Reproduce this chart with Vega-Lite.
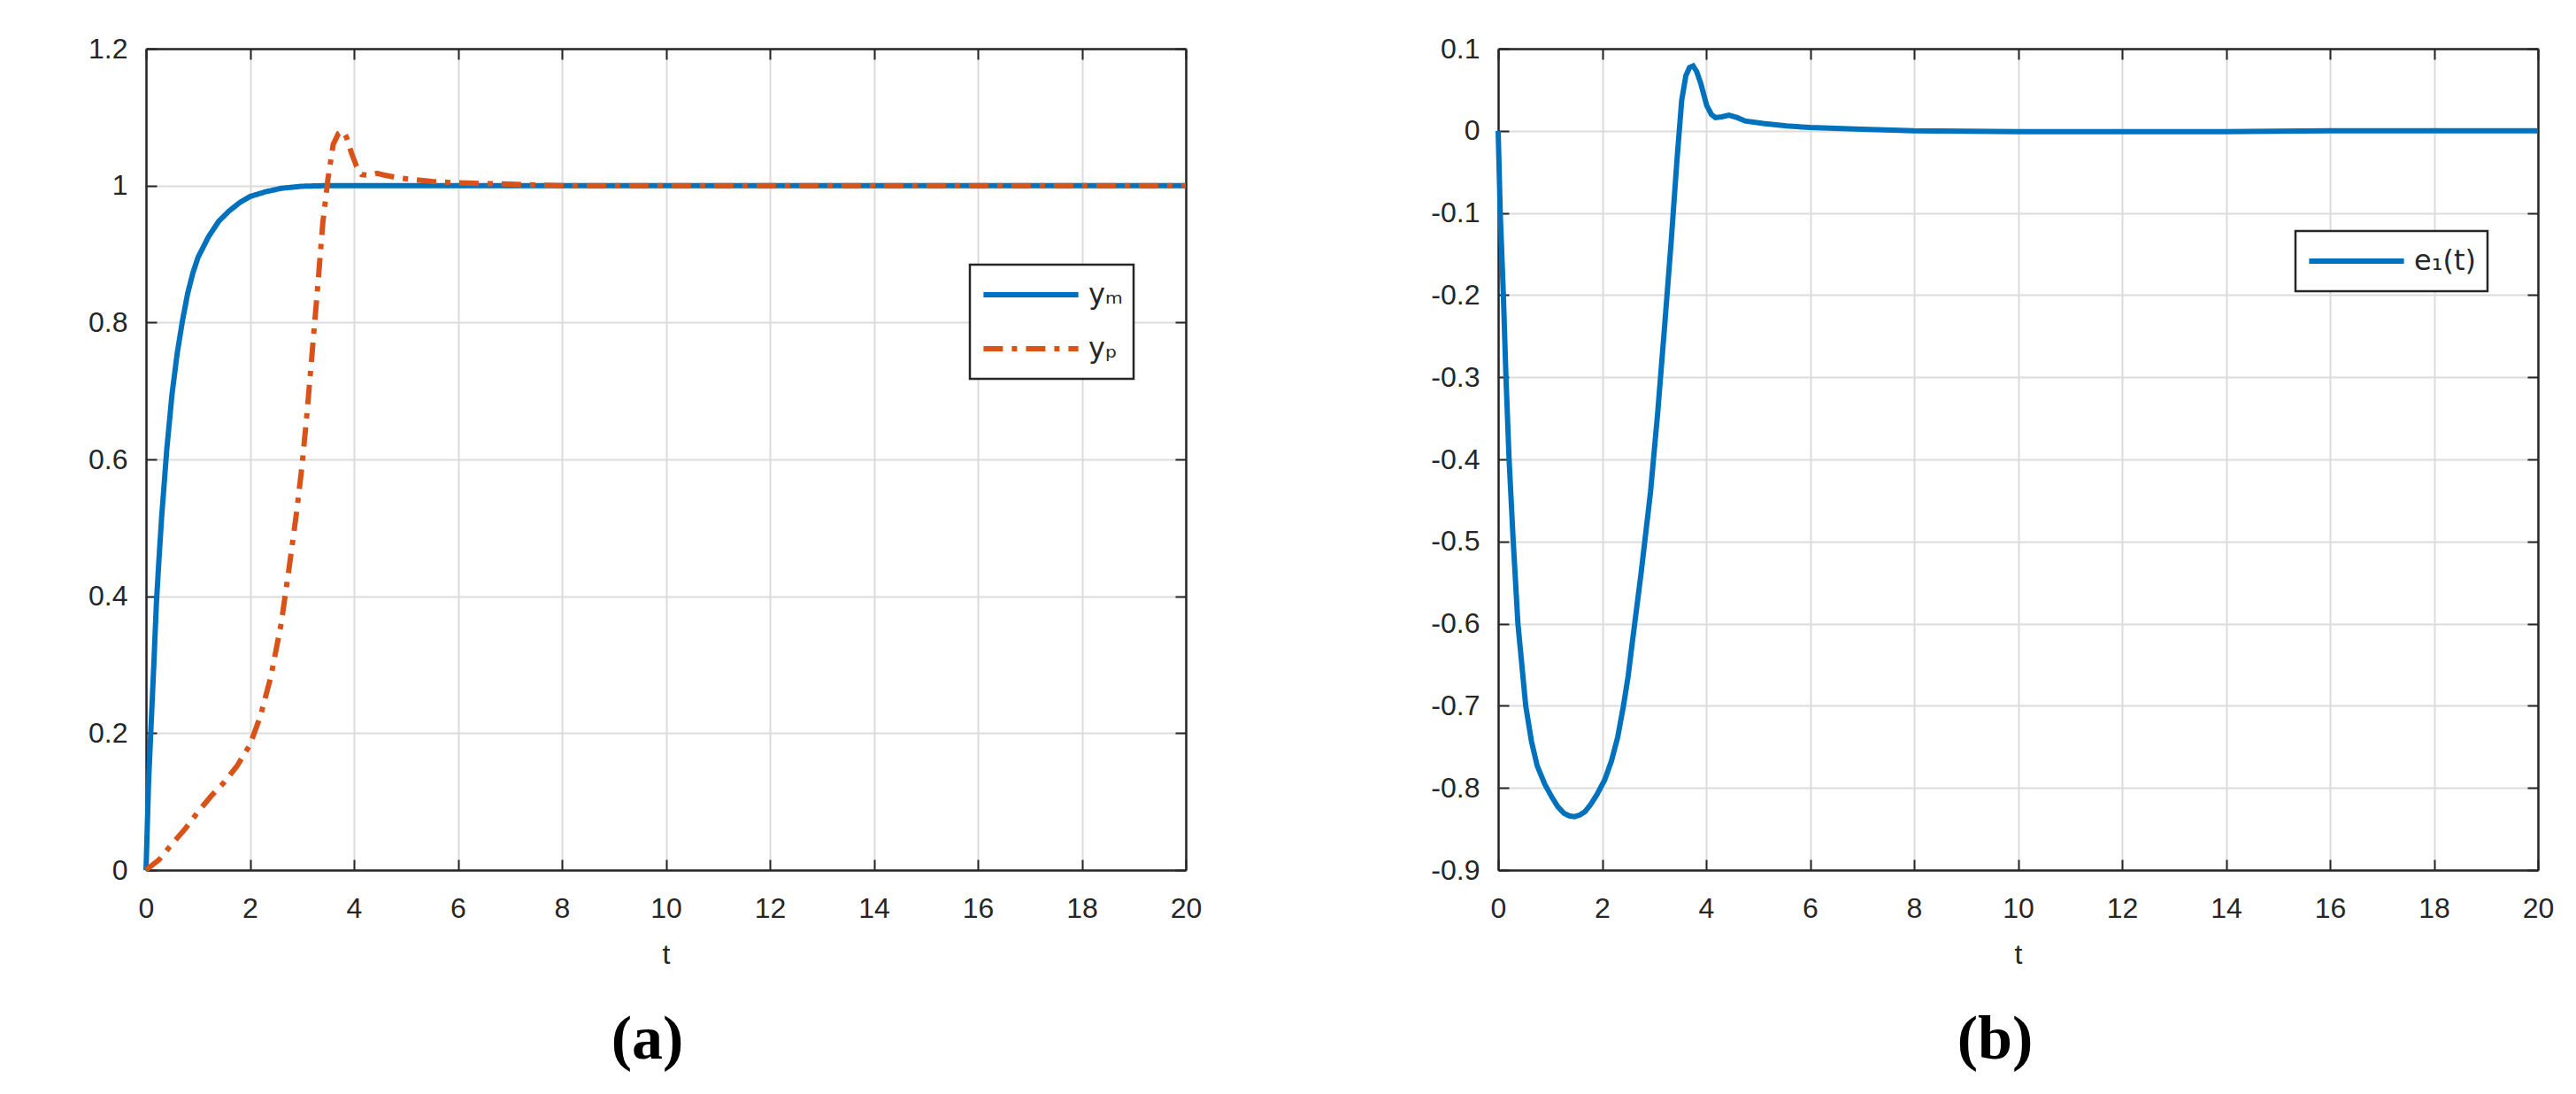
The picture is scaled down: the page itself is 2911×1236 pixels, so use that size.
{
  "$schema": "https://vega.github.io/schema/vega-lite/v6.json",
  "background": "white",
  "padding": {"left": 0, "top": 39, "right": 5, "bottom": 5},
  "spacing": 170,
  "resolve": {"scale": {"color": "independent", "strokeDash": "independent"}, "legend": {"color": "independent", "strokeDash": "independent"}},
  "config": {
    "view": {"stroke": null},
    "axis": {
      "labelFont": "Liberation Sans",
      "labelFontSize": 32,
      "labelColor": "#262626",
      "titleFont": "Liberation Sans",
      "titleFontSize": 32,
      "titleFontWeight": "normal",
      "titleColor": "#262626",
      "domainColor": "#262626",
      "domainWidth": 2.5,
      "tickColor": "#262626",
      "tickWidth": 2,
      "tickSize": -12,
      "gridColor": "#dcdcdc",
      "gridWidth": 2,
      "gridOpacity": 1,
      "labelFlush": false,
      "labelOverlap": false
    },
    "legend": {
      "labelFont": "DejaVu Sans",
      "labelFontSize": 32,
      "labelColor": "#262626",
      "strokeColor": "#262626",
      "strokeWidth": 2.5,
      "fillColor": "white",
      "symbolType": "stroke",
      "symbolSize": 11500,
      "symbolStrokeWidth": 6,
      "labelOffset": 8,
      "clipHeight": 44
    }
  },
  "datasets": {
    "a": [
      {"t": 0, "series": "yₘ", "value": 0},
      {"t": 0.05, "series": "yₘ", "value": 0.13},
      {"t": 0.1, "series": "yₘ", "value": 0.215},
      {"t": 0.15, "series": "yₘ", "value": 0.3},
      {"t": 0.2, "series": "yₘ", "value": 0.39},
      {"t": 0.25, "series": "yₘ", "value": 0.455},
      {"t": 0.3, "series": "yₘ", "value": 0.515},
      {"t": 0.4, "series": "yₘ", "value": 0.615},
      {"t": 0.5, "series": "yₘ", "value": 0.695},
      {"t": 0.6, "series": "yₘ", "value": 0.755},
      {"t": 0.7, "series": "yₘ", "value": 0.802},
      {"t": 0.8, "series": "yₘ", "value": 0.842},
      {"t": 0.9, "series": "yₘ", "value": 0.872},
      {"t": 1.0, "series": "yₘ", "value": 0.895},
      {"t": 1.2, "series": "yₘ", "value": 0.925},
      {"t": 1.4, "series": "yₘ", "value": 0.948},
      {"t": 1.6, "series": "yₘ", "value": 0.963},
      {"t": 1.8, "series": "yₘ", "value": 0.975},
      {"t": 2.0, "series": "yₘ", "value": 0.984},
      {"t": 2.3, "series": "yₘ", "value": 0.991},
      {"t": 2.6, "series": "yₘ", "value": 0.996},
      {"t": 3.0, "series": "yₘ", "value": 0.999},
      {"t": 3.5, "series": "yₘ", "value": 1.0},
      {"t": 5, "series": "yₘ", "value": 1.0},
      {"t": 10, "series": "yₘ", "value": 1.0},
      {"t": 15, "series": "yₘ", "value": 1.0},
      {"t": 20, "series": "yₘ", "value": 1.0},
      {"t": 0, "series": "yₚ", "value": 0},
      {"t": 0.25, "series": "yₚ", "value": 0.015},
      {"t": 0.5, "series": "yₚ", "value": 0.038},
      {"t": 0.75, "series": "yₚ", "value": 0.06},
      {"t": 1.0, "series": "yₚ", "value": 0.085},
      {"t": 1.25, "series": "yₚ", "value": 0.108},
      {"t": 1.5, "series": "yₚ", "value": 0.128},
      {"t": 1.75, "series": "yₚ", "value": 0.152},
      {"t": 2.0, "series": "yₚ", "value": 0.183},
      {"t": 2.2, "series": "yₚ", "value": 0.225},
      {"t": 2.4, "series": "yₚ", "value": 0.282},
      {"t": 2.6, "series": "yₚ", "value": 0.36},
      {"t": 2.75, "series": "yₚ", "value": 0.44},
      {"t": 2.9, "series": "yₚ", "value": 0.525},
      {"t": 3.0, "series": "yₚ", "value": 0.59},
      {"t": 3.1, "series": "yₚ", "value": 0.67},
      {"t": 3.2, "series": "yₚ", "value": 0.76},
      {"t": 3.3, "series": "yₚ", "value": 0.85},
      {"t": 3.4, "series": "yₚ", "value": 0.945},
      {"t": 3.5, "series": "yₚ", "value": 1.01},
      {"t": 3.6, "series": "yₚ", "value": 1.06},
      {"t": 3.7, "series": "yₚ", "value": 1.076},
      {"t": 3.78, "series": "yₚ", "value": 1.08},
      {"t": 3.86, "series": "yₚ", "value": 1.07},
      {"t": 3.95, "series": "yₚ", "value": 1.048},
      {"t": 4.05, "series": "yₚ", "value": 1.028},
      {"t": 4.15, "series": "yₚ", "value": 1.016},
      {"t": 4.3, "series": "yₚ", "value": 1.015},
      {"t": 4.45, "series": "yₚ", "value": 1.018},
      {"t": 4.6, "series": "yₚ", "value": 1.015},
      {"t": 4.8, "series": "yₚ", "value": 1.012},
      {"t": 5.1, "series": "yₚ", "value": 1.009},
      {"t": 5.5, "series": "yₚ", "value": 1.006},
      {"t": 6.0, "series": "yₚ", "value": 1.004},
      {"t": 7.0, "series": "yₚ", "value": 1.002},
      {"t": 8.0, "series": "yₚ", "value": 1.0},
      {"t": 10, "series": "yₚ", "value": 1.0},
      {"t": 15, "series": "yₚ", "value": 1.0},
      {"t": 20, "series": "yₚ", "value": 1.0}
    ],
    "b": [
      {"t": 0, "series": "e₁(t)", "value": 0},
      {"t": 0.04, "series": "e₁(t)", "value": -0.1},
      {"t": 0.1, "series": "e₁(t)", "value": -0.2},
      {"t": 0.15, "series": "e₁(t)", "value": -0.3},
      {"t": 0.21, "series": "e₁(t)", "value": -0.4},
      {"t": 0.29, "series": "e₁(t)", "value": -0.5},
      {"t": 0.38, "series": "e₁(t)", "value": -0.6},
      {"t": 0.53, "series": "e₁(t)", "value": -0.7},
      {"t": 0.64, "series": "e₁(t)", "value": -0.743},
      {"t": 0.75, "series": "e₁(t)", "value": -0.773},
      {"t": 0.9, "series": "e₁(t)", "value": -0.796},
      {"t": 1.04, "series": "e₁(t)", "value": -0.812},
      {"t": 1.15, "series": "e₁(t)", "value": -0.823},
      {"t": 1.27, "series": "e₁(t)", "value": -0.831},
      {"t": 1.37, "series": "e₁(t)", "value": -0.834},
      {"t": 1.47, "series": "e₁(t)", "value": -0.835},
      {"t": 1.57, "series": "e₁(t)", "value": -0.833},
      {"t": 1.67, "series": "e₁(t)", "value": -0.829},
      {"t": 1.78, "series": "e₁(t)", "value": -0.82},
      {"t": 1.9, "series": "e₁(t)", "value": -0.808},
      {"t": 2.05, "series": "e₁(t)", "value": -0.79},
      {"t": 2.18, "series": "e₁(t)", "value": -0.767},
      {"t": 2.3, "series": "e₁(t)", "value": -0.738},
      {"t": 2.41, "series": "e₁(t)", "value": -0.7},
      {"t": 2.5, "series": "e₁(t)", "value": -0.664},
      {"t": 2.58, "series": "e₁(t)", "value": -0.623},
      {"t": 2.75, "series": "e₁(t)", "value": -0.538},
      {"t": 2.93, "series": "e₁(t)", "value": -0.44},
      {"t": 3.07, "series": "e₁(t)", "value": -0.342},
      {"t": 3.21, "series": "e₁(t)", "value": -0.231},
      {"t": 3.33, "series": "e₁(t)", "value": -0.133},
      {"t": 3.44, "series": "e₁(t)", "value": -0.035},
      {"t": 3.53, "series": "e₁(t)", "value": 0.037},
      {"t": 3.61, "series": "e₁(t)", "value": 0.067},
      {"t": 3.68, "series": "e₁(t)", "value": 0.077},
      {"t": 3.75, "series": "e₁(t)", "value": 0.079},
      {"t": 3.82, "series": "e₁(t)", "value": 0.072},
      {"t": 3.9, "series": "e₁(t)", "value": 0.057},
      {"t": 4.01, "series": "e₁(t)", "value": 0.031},
      {"t": 4.1, "series": "e₁(t)", "value": 0.02},
      {"t": 4.18, "series": "e₁(t)", "value": 0.016},
      {"t": 4.3, "series": "e₁(t)", "value": 0.017},
      {"t": 4.44, "series": "e₁(t)", "value": 0.019},
      {"t": 4.6, "series": "e₁(t)", "value": 0.016},
      {"t": 4.75, "series": "e₁(t)", "value": 0.012},
      {"t": 5.1, "series": "e₁(t)", "value": 0.009},
      {"t": 5.55, "series": "e₁(t)", "value": 0.006},
      {"t": 6, "series": "e₁(t)", "value": 0.004},
      {"t": 7, "series": "e₁(t)", "value": 0.002},
      {"t": 8, "series": "e₁(t)", "value": 0},
      {"t": 10, "series": "e₁(t)", "value": -0.001},
      {"t": 12, "series": "e₁(t)", "value": -0.001},
      {"t": 14, "series": "e₁(t)", "value": -0.001},
      {"t": 16, "series": "e₁(t)", "value": 0},
      {"t": 18, "series": "e₁(t)", "value": 0},
      {"t": 20, "series": "e₁(t)", "value": 0}
    ]
  },
  "hconcat": [
    {
      "width": 1175,
      "height": 928,
      "title": {"text": "(a)", "orient": "bottom", "anchor": "middle", "font": "Liberation Serif", "fontSize": 70, "fontWeight": "bold", "color": "#000000", "offset": 47, "dx": -21},
      "data": {"name": "a"},
      "layer": [
        {
          "mark": {"type": "line", "strokeWidth": 6},
          "encoding": {
            "x": {"field": "t", "type": "quantitative",
              "scale": {"domain": [0, 20], "nice": false, "zero": false},
              "axis": {"orient": "bottom", "values": [0, 2, 4, 6, 8, 10, 12, 14, 16, 18, 20], "format": "d", "grid": true, "labelPadding": 40, "title": "t", "titlePadding": 21}},
            "y": {"field": "value", "type": "quantitative",
              "scale": {"domain": [0, 1.2], "nice": false},
              "axis": {"orient": "left", "values": [0, 0.2, 0.4, 0.6, 0.8, 1, 1.2], "format": ".1~f", "grid": true, "labelPadding": 33, "title": null, "minExtent": 165, "maxExtent": 165}},
            "color": {"field": "series", "type": "nominal",
              "scale": {"domain": ["yₘ", "yₚ"], "range": ["#0072BD", "#D95319"]},
              "legend": {"title": null, "orient": "none", "legendX": 931, "legendY": 244, "padding": 12, "rowPadding": 17}},
            "strokeDash": {"field": "series", "type": "nominal",
              "scale": {"domain": ["yₘ", "yₚ"], "range": [[1, 0], [22, 10, 6, 10]]},
              "legend": {"title": null, "orient": "none", "legendX": 931, "legendY": 244, "padding": 12, "rowPadding": 17}}
          }
        },
        {
          "mark": {"type": "point", "opacity": 0, "size": 0},
          "encoding": {
            "x": {"field": "t", "type": "quantitative",
              "axis": {"orient": "top", "values": [0, 2, 4, 6, 8, 10, 12, 14, 16, 18, 20], "labels": false, "grid": false, "title": null}},
            "y": {"field": "value", "type": "quantitative",
              "axis": {"orient": "right", "values": [0, 0.2, 0.4, 0.6, 0.8, 1, 1.2], "labels": false, "grid": false, "title": null}}
          }
        }
      ],
      "resolve": {"axis": {"x": "independent", "y": "independent"}}
    },
    {
      "width": 1175,
      "height": 928,
      "title": {"text": "(b)", "orient": "bottom", "anchor": "middle", "font": "Liberation Serif", "fontSize": 70, "fontWeight": "bold", "color": "#000000", "offset": 47, "dx": -26},
      "data": {"name": "b"},
      "layer": [
        {
          "mark": {"type": "line", "strokeWidth": 6},
          "encoding": {
            "x": {"field": "t", "type": "quantitative",
              "scale": {"domain": [0, 20], "nice": false, "zero": false},
              "axis": {"orient": "bottom", "values": [0, 2, 4, 6, 8, 10, 12, 14, 16, 18, 20], "format": "d", "grid": true, "labelPadding": 40, "title": "t", "titlePadding": 21}},
            "y": {"field": "value", "type": "quantitative",
              "scale": {"domain": [-0.9, 0.1], "nice": false, "zero": false},
              "axis": {"orient": "left", "values": [-0.9, -0.8, -0.7, -0.6, -0.5, -0.4, -0.3, -0.2, -0.1, 0, 0.1], "labelExpr": "replace(format(datum.value, '.1~f'), '\u2212', '-')", "grid": true, "labelPadding": 33, "title": null, "minExtent": 165, "maxExtent": 165}},
            "color": {"field": "series", "type": "nominal",
              "scale": {"domain": ["e₁(t)"], "range": ["#0072BD"]},
              "legend": {"title": null, "orient": "none", "legendX": 901, "legendY": 206, "padding": 12}}
          }
        },
        {
          "mark": {"type": "point", "opacity": 0, "size": 0},
          "encoding": {
            "x": {"field": "t", "type": "quantitative",
              "axis": {"orient": "top", "values": [0, 2, 4, 6, 8, 10, 12, 14, 16, 18, 20], "labels": false, "grid": false, "title": null}},
            "y": {"field": "value", "type": "quantitative",
              "axis": {"orient": "right", "values": [-0.9, -0.8, -0.7, -0.6, -0.5, -0.4, -0.3, -0.2, -0.1, 0, 0.1], "labels": false, "grid": false, "title": null}}
          }
        }
      ],
      "resolve": {"axis": {"x": "independent", "y": "independent"}}
    }
  ]
}
